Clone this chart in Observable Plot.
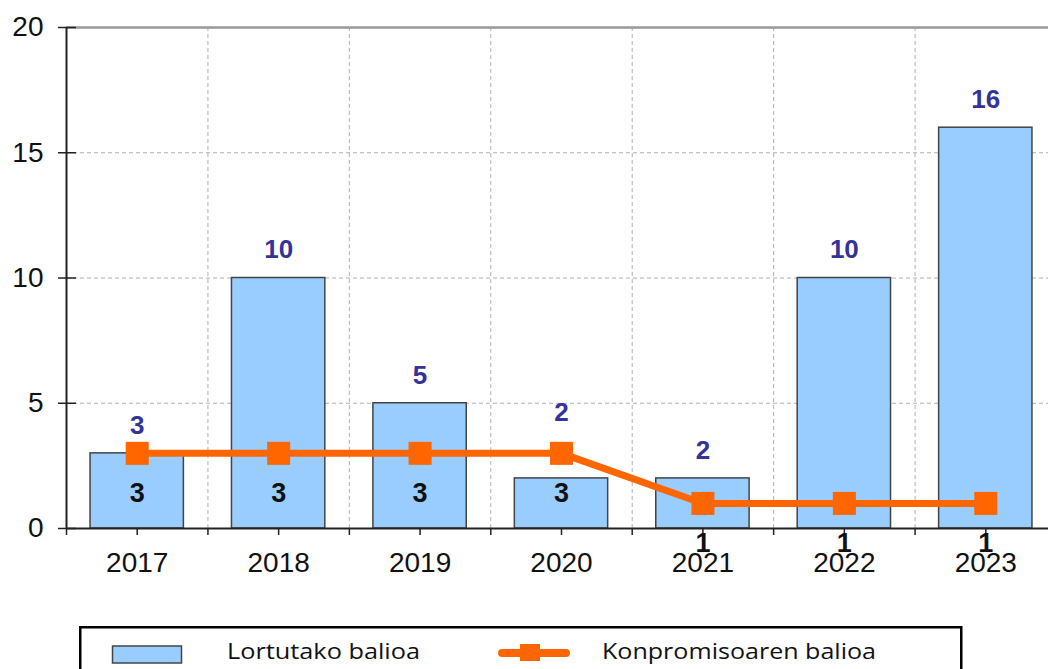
<!DOCTYPE html>
<html><head><meta charset="utf-8">
<script src="https://cdn.jsdelivr.net/npm/d3@7"></script>
<script src="https://cdn.jsdelivr.net/npm/@observablehq/plot@0.6"></script>
<style>
html,body{margin:0;padding:0;background:#fff;overflow:hidden;width:1048px;height:669px;}
#chart{position:absolute;left:0;top:0;}
#chart svg{max-width:none !important;}
#legend{position:absolute;left:0;top:600px;}
</style></head><body>
<div id="chart"></div>
<svg id="legend" width="1048" height="69"></svg>
<script>
const years = [2017, 2018, 2019, 2020, 2021, 2022, 2023];
const achieved = [3, 10, 5, 2, 2, 10, 16];
const commitment = [3, 3, 3, 3, 1, 1, 1];
const yTicks = [0, 5, 10, 15, 20];
const seriesNames = ["Lortutako balioa", "Konpromisoaren balioa"];

const bars = years.map((year, i) => ({year, value: achieved[i], target: commitment[i]}));
const line = years.map((year, i) => ({year, value: commitment[i]}));
const boundaries = years.map(y => y - 0.5);
const halfBar = 0.33;
const font = "'Liberation Sans', Arial, sans-serif";

// bar labels: above the bar, or above the commitment marker when the bar is below it
const labelAbove = bars.filter(d => d.value >= d.target);
const labelAboveMarker = bars.filter(d => d.value < d.target);

const plot = Plot.plot({
  width: 1056, height: 600,
  marginLeft: 66, marginRight: 0, marginTop: 27, marginBottom: 72,
  style: {fontFamily: font, background: "white", overflow: "visible", maxWidth: "none"},
  x: {type: "linear", domain: [years[0] - 0.5, years[years.length - 1] + 0.5]},
  y: {domain: [yTicks[0], yTicks[yTicks.length - 1]]},
  marks: [
    Plot.gridY({ticks: yTicks.slice(1, -1), stroke: "#b0b0b0", strokeOpacity: 1, strokeDasharray: "4,3"}),
    Plot.gridX({ticks: boundaries.slice(1), stroke: "#b0b0b0", strokeOpacity: 1, strokeDasharray: "4,3"}),
    Plot.ruleY([yTicks[yTicks.length - 1]], {stroke: "#999", strokeWidth: 2.5}),
    Plot.rectY(bars, {x1: d => d.year - halfBar, x2: d => d.year + halfBar, y: "value", fill: "#99CCFF", stroke: "#444", strokeWidth: 1.5}),
    Plot.axisY({ticks: yTicks, tickSize: 18, dx: 10, tickPadding: 15, fontSize: 28, tickFormat: d => String(d), stroke: "#222", strokeWidth: 1.5, fill: "#111", label: null}),
    Plot.axisX({ticks: years, tickSize: 7, tickPadding: 17, fontSize: 28, tickFormat: d => String(d), stroke: "#222", strokeWidth: 1.5, fill: "#111", label: null}),
    Plot.axisX({ticks: boundaries, tickSize: 7, tickFormat: () => "", stroke: "#222", strokeWidth: 1.5, label: null}),
    Plot.ruleX([years[0] - 0.5], {stroke: "#222", strokeWidth: 2}),
    Plot.ruleY([0], {stroke: "#222", strokeWidth: 2}),
    Plot.line(line, {x: "year", y: "value", stroke: "#FF6600", strokeWidth: 7}),
    Plot.dot(line, {x: "year", y: "value", symbol: "square", r: 13, fill: "#FF6600"}),
    Plot.text(labelAbove, {x: "year", y: "value", text: d => String(d.value), dy: -28, fill: "#333399", fontWeight: "bold", fontSize: 26}),
    Plot.text(labelAboveMarker, {x: "year", y: "target", text: d => String(d.value), dy: -41, fill: "#333399", fontWeight: "bold", fontSize: 26}),
    Plot.text(line, {x: "year", y: "value", text: d => String(d.value), dy: 40, fill: "#111", fontWeight: "bold", fontSize: 27})
  ]
});
document.getElementById("chart").append(plot);

// legend (below the chart)
const lg = d3.select("#legend");
const off = 600;
lg.append("rect").attr("x", 80.25).attr("y", 627.25 - off).attr("width", 881).attr("height", 100)
  .attr("fill", "white").attr("stroke", "#000").attr("stroke-width", 2.5);
lg.append("rect").attr("x", 112.5).attr("y", 646 - off).attr("width", 69).attr("height", 17)
  .attr("fill", "#99CCFF").attr("stroke", "#444").attr("stroke-width", 1.5);
lg.append("text").attr("x", 227).attr("y", 659 - off).attr("font-family", "'Open Sans', sans-serif")
  .attr("font-size", 21.5).attr("fill", "#111").attr("textLength", 193).attr("lengthAdjust", "spacingAndGlyphs")
  .text(seriesNames[0]);
lg.append("line").attr("x1", 502).attr("x2", 566).attr("y1", 653 - off).attr("y2", 653 - off)
  .attr("stroke", "#FF6600").attr("stroke-width", 8).attr("stroke-linecap", "round");
lg.append("rect").attr("x", 520).attr("y", 644 - off).attr("width", 20).attr("height", 17).attr("fill", "#FF6600");
lg.append("text").attr("x", 602).attr("y", 659 - off).attr("font-family", "'Open Sans', sans-serif")
  .attr("font-size", 21.5).attr("fill", "#111").attr("textLength", 274).attr("lengthAdjust", "spacingAndGlyphs")
  .text(seriesNames[1]);
</script>
</body></html>
